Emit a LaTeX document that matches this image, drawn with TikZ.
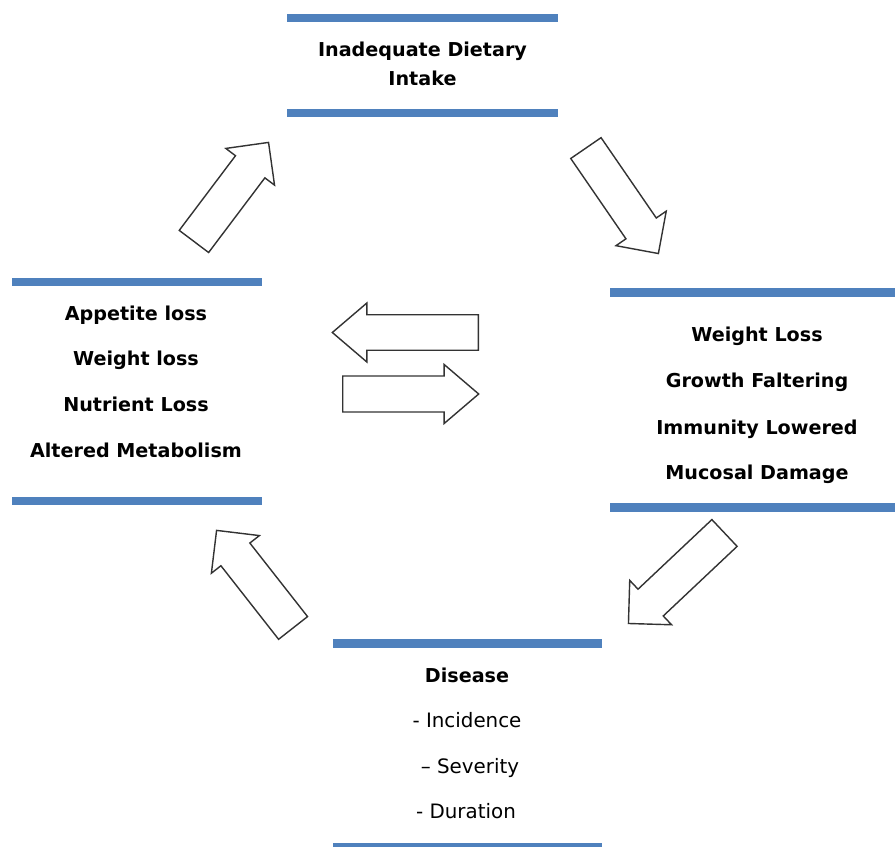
\documentclass[tikz,border=0pt]{standalone}
\usepackage{fontspec}
\newfontfamily\cyclefont{DejaVu Sans}
\usepackage{tikz}
\usetikzlibrary{shapes,arrows}
\definecolor{barblue}{RGB}{79,129,189}
\tikzset{
	bar/.style={draw=barblue, line width=0.17cm},
	item/.style={font=\cyclefont\bfseries\fontsize{10.9}{13}\selectfont, anchor=base, inner sep=0pt},
	subitem/.style={font=\cyclefont\fontsize{11.3}{13}\selectfont, anchor=base, inner sep=0pt},
	blockarrow/.style={single arrow, draw=black!80, line width=0.8pt, fill=white,
		inner sep=0.29cm, minimum width=1.22cm, single arrow head extend=0.2cm,
		single arrow tip angle=90, anchor=tail},
}

\begin{document}
\begin{tikzpicture}[x=0.02cm, y=-0.02cm]
	\useasboundingbox (0,0) rectangle (895,847);

	% box: dietary intake
	\draw[bar] (287,18) -- (558,18);
	\draw[bar] (287,113) -- (558,113);
	\node[item] (diet_1) at (422.5,57) {Inadequate Dietary};
	\node[item] (diet_2) at (422.5,86) {Intake};

	% box: appetite
	\draw[bar] (12,282) -- (262,282);
	\draw[bar] (12,501) -- (262,501);
	\node[item] (app_1) at (136,321) {Appetite loss};
	\node[item] (app_2) at (136,366) {Weight loss};
	\node[item] (app_3) at (136,412) {Nutrient Loss};
	\node[item] (app_4) at (136,457) {Altered Metabolism};

	% box: weight loss
	\draw[bar] (610,292.5) -- (895,292.5);
	\draw[bar] (610,507.5) -- (895,507.5);
	\node[item] (wl_1) at (757,342) {Weight Loss};
	\node[item] (wl_2) at (757,388) {Growth Faltering};
	\node[item] (wl_3) at (757,434) {Immunity Lowered};
	\node[item] (wl_4) at (757,479) {Mucosal Damage};

	% box: disease
	\draw[bar] (333,643.5) -- (602,643.5);
	\draw[bar] (333,847) -- (602,847);
	\node[item] (dis_0) at (467,682) {Disease};
	\node[subitem] (dis_1) at (467,727) {- Incidence};
	\node[subitem] (dis_2) at (470,773) {– Severity};
	\node[subitem] (dis_3) at (466,818) {- Duration};

	% cycle arrows
	\node[blockarrow, rotate=53.0, minimum height=2.48cm] (to_diet) at (193.5,242) {};
	\node[blockarrow, rotate=-55.5, minimum height=2.56cm] (to_wl) at (585.5,147.5) {};
	\node[blockarrow, rotate=-136.7, minimum height=2.64cm] (to_dis) at (725,532.5) {};
	\node[blockarrow, rotate=128.1, minimum height=2.48cm] (to_app) at (293.5,628.5) {};

	% middle arrows
	\node[blockarrow, rotate=180, minimum height=2.92cm, minimum width=1.18cm,
		single arrow tip angle=81] (mid_left) at (479,332.5) {};
	\node[blockarrow, minimum height=2.72cm, minimum width=1.18cm, inner sep=0.3cm,
		single arrow tip angle=81] (mid_right) at (342,394) {};
\end{tikzpicture}
\end{document}
